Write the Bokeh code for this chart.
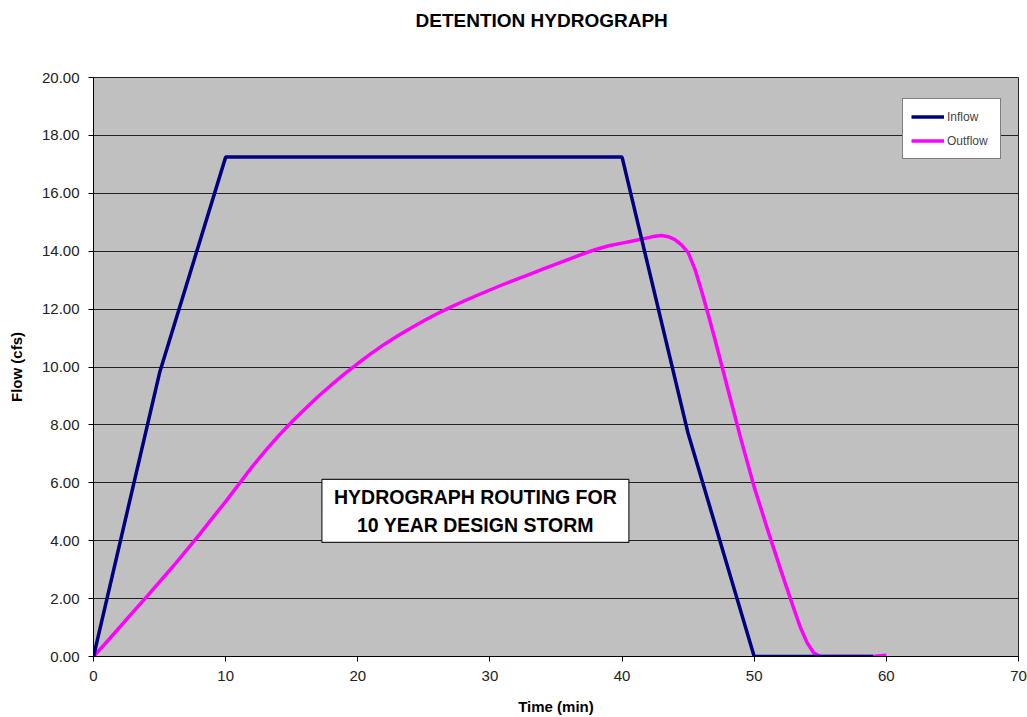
from bokeh.plotting import figure
from bokeh.models import (Range1d, FixedTicker, PrintfTickFormatter, Legend, LegendItem, Title)
from bokeh.core.properties import value
from bokeh.embed import file_html
from bokeh.resources import INLINE

# ---- data ----
inflow_t = [0, 5, 10, 40, 45, 50, 59]
inflow_q = [0.0, 9.8, 17.25, 17.25, 7.7, 0.0, 0.0]

outflow_t = [0, 1, 2, 3, 4, 5, 6, 7, 8, 9, 10,
             11, 12, 13, 14, 15, 16, 17, 18, 19, 20,
             21, 22, 23, 24, 25, 26, 27, 28, 29, 30,
             31, 32, 33, 34, 35, 36, 37, 38, 39, 40,
             41, 42, 42.5, 43, 43.5, 44, 44.5, 45, 45.5, 46, 46.5, 47, 48, 49, 50,
             51, 52, 53, 53.5, 54, 54.5, 55, 56, 57, 58, 59, 60]
outflow_q = [0.0, 0.5, 1.02, 1.54, 2.05, 2.58, 3.1, 3.65, 4.2, 4.78, 5.35,
             5.95, 6.55, 7.1, 7.62, 8.1, 8.55, 8.98, 9.38, 9.76, 10.12,
             10.46, 10.78, 11.07, 11.34, 11.6, 11.84, 12.06, 12.27, 12.47, 12.66,
             12.85, 13.03, 13.2, 13.38, 13.55, 13.73, 13.9, 14.06, 14.19, 14.28,
             14.37, 14.47, 14.52, 14.54, 14.5, 14.4, 14.22, 13.95, 13.4, 12.65, 11.85, 11.0, 9.25, 7.5, 5.85,
             4.4, 3.0, 1.65, 1.0, 0.48, 0.13, 0.0, 0.0, 0.0, 0.0, 0.0, 0.04]

x_ticks = [0, 10, 20, 30, 40, 50, 60, 70]
y_ticks = [0, 2, 4, 6, 8, 10, 12, 14, 16, 18, 20]

title_text = "DETENTION HYDROGRAPH"
box_text = "HYDROGRAPH ROUTING FOR\n10 YEAR DESIGN STORM"
FONT = "Liberation Sans"

p = figure(width=1027, height=717, x_range=Range1d(0, 70), y_range=Range1d(0, 20),
           output_backend="svg", toolbar_location=None,
           min_border_left=93, min_border_right=9, min_border_top=77, min_border_bottom=60,
           background_fill_color="#C0C0C0", border_fill_color="white")
p.outline_line_color = "#222222"
p.outline_line_width = 1

# trailing blank lines lift the title line towards the top of the canvas
p.title = Title(text=title_text + "\n\n", align="left", offset=322, standoff=6,
                vertical_align="top",
                text_font=FONT, text_font_size="19px", text_font_style="bold",
                text_color="black")

# grid
p.xgrid.grid_line_color = None
p.ygrid.grid_line_color = "#222222"
p.ygrid.grid_line_width = 1
p.ygrid.ticker = FixedTicker(ticks=y_ticks)

# axes
p.xaxis.ticker = FixedTicker(ticks=x_ticks)
p.yaxis.ticker = FixedTicker(ticks=y_ticks)
p.yaxis.formatter = PrintfTickFormatter(format="%.2f")
for ax in (p.xaxis[0], p.yaxis[0]):
    ax.axis_line_color = "black"
    ax.major_tick_line_color = "black"
    ax.major_tick_out = 5
    ax.major_tick_in = 0
    ax.minor_tick_line_color = None
    ax.major_label_text_font = FONT
    ax.major_label_text_font_size = "15px"
    ax.major_label_text_color = "#222222"
    ax.axis_label_text_font = FONT
    ax.axis_label_text_font_size = "15px"
    ax.axis_label_text_font_style = "bold"
    ax.axis_label_text_color = "black"
p.yaxis.major_label_standoff = 9
p.xaxis.major_label_standoff = 9
p.yaxis.axis_label = "Flow (cfs)"
p.xaxis.axis_label = "Time (min)"
p.yaxis.axis_label_standoff = 14
p.xaxis.axis_label_standoff = 14

# series (outflow beneath inflow)
r_out = p.line(outflow_t, outflow_q, line_color="#FF00FF", line_width=3.5, line_join="round")
r_in = p.line(inflow_t, inflow_q, line_color="#000080", line_width=3.5)

# annotation box
p.rect(x=[28.9], y=[5.03], width=307, height=63, width_units="screen", height_units="screen",
       fill_color="white", line_color="#222222", line_width=1.2)
p.text(x=[28.9], y=[5.03], text=[box_text], text_align="center", text_baseline="middle",
       text_font=value(FONT), text_font_size="19.5px", text_font_style="bold",
       text_line_height=1.25, text_color="black")

legend = Legend(items=[LegendItem(label="Inflow", renderers=[r_in]),
                       LegendItem(label="Outflow", renderers=[r_out])],
                location=(809, 497), padding=8, spacing=5, margin=0,
                glyph_width=33, glyph_height=19, label_height=19, label_width=45,
                label_standoff=3, label_text_font=FONT, label_text_font_size="12px",
                border_line_color="black", border_line_width=1,
                background_fill_color="white", background_fill_alpha=1)
p.add_layout(legend)

open("out.html", "w").write(file_html(p, INLINE))
